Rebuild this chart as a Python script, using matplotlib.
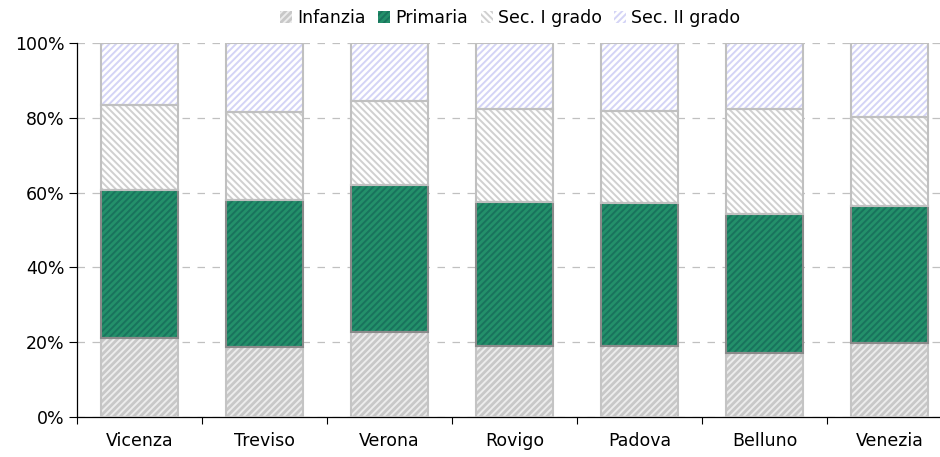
import matplotlib.pyplot as plt
from matplotlib.patches import Patch
import numpy as np

# Province e quote per ordine di scuola (%)
provinces = ['Vicenza', 'Treviso', 'Verona', 'Rovigo', 'Padova', 'Belluno', 'Venezia']
infanzia = [21.1, 18.6, 22.8, 19.0, 19.0, 17.2, 19.7]
primaria = [39.6, 39.3, 39.2, 38.4, 38.1, 37.0, 36.7]
sec_i = [22.7, 23.6, 22.5, 25.0, 24.6, 28.1, 23.7]
sec_ii = [16.6, 18.5, 15.5, 17.6, 18.3, 17.7, 19.9]

series = ['Infanzia', 'Primaria', 'Sec. I grado', 'Sec. II grado']
values = [infanzia, primaria, sec_i, sec_ii]
# (fill, hatch colour, hatch, outline)
styles = [
    ('#c8c8c8', '#ececec', '/////', '#c4c4c4'),
    ('#23906a', '#19735d', '/////', '#8a8a8a'),
    ('#ffffff', '#d0d0d0', '\\\\\\\\\\', '#c0c0c0'),
    ('#ffffff', '#d4d4f6', '/////', '#c0c0c0'),
]

plt.rcParams['font.family'] = ['DejaVu Sans']
plt.rcParams['hatch.linewidth'] = 1.4

fig = plt.figure(figsize=(9.4, 4.57), dpi=100)
ax = fig.add_axes([77 / 940, 1 - 417 / 457, 875 / 940, 374 / 457])

x = np.arange(len(provinces))
width = 0.62
bottom = np.zeros(len(provinces))
for vals, (fc, hc, hatch, ec) in zip(values, styles):
    vals = np.array(vals)
    ax.bar(x, vals, width, bottom=bottom, color=fc, edgecolor=hc, hatch=hatch,
           linewidth=0, zorder=2)
    ax.bar(x, vals, width, bottom=bottom, facecolor='none', edgecolor=ec,
           linewidth=1.5, zorder=3)
    bottom += vals

ax.set_xlim(-0.5, len(provinces) - 0.5)
ax.set_ylim(0, 100)
ax.set_yticks(np.arange(0, 101, 20))
ax.set_yticklabels([f'{v}%' for v in range(0, 101, 20)], fontsize=12.5)
ax.yaxis.grid(True, color='#c0c0c0', linestyle=(0, (6, 6)), linewidth=0.9, zorder=0)
ax.set_axisbelow(True)

ax.set_xticks(x)
ax.set_xticklabels(provinces, fontsize=12.5)
ax.set_xticks(np.arange(-0.5, len(provinces)), minor=True)
ax.tick_params(axis='x', which='major', length=0, pad=11)
ax.tick_params(axis='x', which='minor', length=5, width=0.8, direction='out')
ax.tick_params(axis='y', length=6, width=0.8, direction='out', pad=3)

for side in ['top', 'right']:
    ax.spines[side].set_visible(False)
ax.spines['left'].set_linewidth(0.9)
ax.spines['bottom'].set_linewidth(0.9)

handles = [Patch(facecolor=fc, edgecolor=hc, hatch=hatch, linewidth=0)
           for fc, hc, hatch, ec in styles]
fig.legend(handles, series, loc='upper center', bbox_to_anchor=(0.543, 1.015),
           ncol=4, frameon=False, fontsize=12.5, handlelength=0.7,
           handleheight=0.7, handletextpad=0.3, columnspacing=0.7)

fig.savefig('out.png', dpi=100)
